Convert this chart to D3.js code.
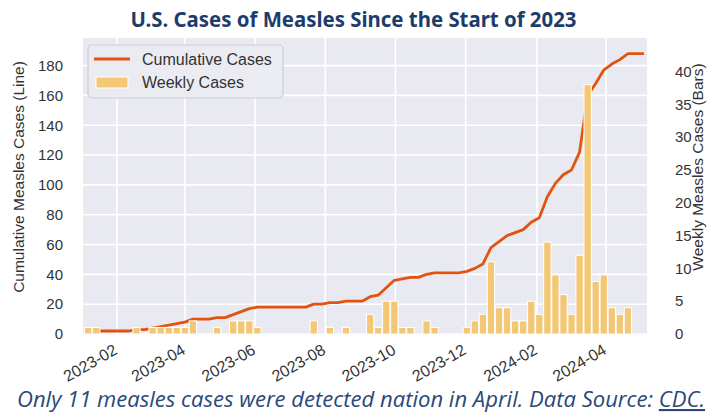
<!DOCTYPE html>
<html>
<head>
<meta charset="utf-8">
<script src="https://d3js.org/d3.v7.min.js"></script>
<style>
body { margin: 0; background: #fff; }
svg { display: block; }
text { font-family: "Liberation Sans", Arial, sans-serif; }
</style>
</head>
<body>
<div id="chart"></div>
<script>
// weekly counts, one per week starting 2023-01-07
var firstWeek = new Date(2023, 0, 7);
var weeklyCases = [1, 1, 0, 0, 0, 0, 1, 0, 1, 1, 1, 1, 1, 2, 0, 0, 1, 0, 2, 2,
  2, 1, 0, 0, 0, 0, 0, 0, 2, 0, 1, 0, 1, 0, 0, 3, 1, 5, 5, 1,
  1, 0, 2, 1, 0, 0, 0, 1, 2, 3, 11, 4, 4, 2, 2, 5, 3, 14, 9, 6,
  3, 12, 38, 8, 9, 4, 3, 4, 0, 0];
var cumulativeCases = [1, 2, 2, 2, 2, 2, 3, 3, 4, 5, 6, 7, 8, 10, 10, 10, 11, 11, 13, 15,
  17, 18, 18, 18, 18, 18, 18, 18, 20, 20, 21, 21, 22, 22, 22, 25, 26, 31, 36, 37,
  38, 38, 40, 41, 41, 41, 41, 42, 44, 47, 58, 62, 66, 68, 70, 75, 78, 92, 101, 107,
  110, 122, 160, 168, 177, 181, 184, 188, 188, 188];
var monthTicks = ["2023-02", "2023-04", "2023-06", "2023-08", "2023-10", "2023-12", "2024-02", "2024-04"];
var leftTicks = [0, 20, 40, 60, 80, 100, 120, 140, 160, 180];
var rightTicks = [0, 5, 10, 15, 20, 25, 30, 35, 40];

var width = 707, height = 414;
var plot = { left: 83, right: 647, top: 38, bottom: 335 };
var lineColor = "#e2530f", barColor = "#f4c774", navy = "#1e3c6b";

var weeks = weeklyCases.map(function (v, i) {
  return { date: d3.timeDay.offset(firstWeek, 7 * i), weekly: v, total: cumulativeCases[i] };
});

var parseMonth = d3.timeParse("%Y-%m");

var x = d3.scaleTime()
  .domain([new Date(2023, 0, 2, 12), new Date(2024, 4, 6, 14)])
  .range([plot.left, plot.right]);
var yLeft = d3.scaleLinear().domain([0, 198.5]).range([334, plot.top]);
var yRight = d3.scaleLinear().domain([0, 45.1]).range([334, plot.top]);

var svg = d3.select("#chart").append("svg").attr("width", width).attr("height", height);

// title
svg.append("text")
  .attr("x", 353.5).attr("y", 27)
  .attr("text-anchor", "middle")
  .attr("textLength", 446).attr("lengthAdjust", "spacingAndGlyphs")
  .style("font-family", "'Noto Sans', 'Open Sans', sans-serif")
  .style("font-weight", 700).style("font-size", "22px")
  .style("fill", navy)
  .text("U.S. Cases of Measles Since the Start of 2023");

// plot background and grid
svg.append("rect")
  .attr("x", plot.left).attr("y", plot.top)
  .attr("width", plot.right - plot.left).attr("height", plot.bottom - plot.top)
  .style("fill", "#e9e9f1");

svg.selectAll(".hgrid").data(leftTicks).enter().append("line")
  .attr("class", "hgrid")
  .attr("x1", plot.left).attr("x2", plot.right)
  .attr("y1", function (d) { return yLeft(d); })
  .attr("y2", function (d) { return yLeft(d); })
  .style("stroke", "#fff").style("stroke-width", 1.6);

svg.selectAll(".vgrid").data(monthTicks).enter().append("line")
  .attr("class", "vgrid")
  .attr("x1", function (d) { return x(parseMonth(d)); })
  .attr("x2", function (d) { return x(parseMonth(d)); })
  .attr("y1", plot.top).attr("y2", plot.bottom)
  .style("stroke", "#fff").style("stroke-width", 1.6);

// cumulative line (under the bars)
var line = d3.line()
  .x(function (d) { return x(d.date); })
  .y(function (d) { return yLeft(d.total); });

svg.append("path")
  .datum(weeks)
  .attr("d", line)
  .style("fill", "none")
  .style("stroke", lineColor)
  .style("stroke-width", 2.8)
  .style("stroke-linejoin", "round");

// weekly bars
var barW = x(new Date(2023, 0, 8)) - x(new Date(2023, 0, 2)) + 0.4;
svg.selectAll(".bar").data(weeks.filter(function (d) { return d.weekly > 0; }))
  .enter().append("rect")
  .attr("class", "bar")
  .attr("x", function (d) { return x(d.date) - barW / 2; })
  .attr("y", function (d) { return yRight(d.weekly); })
  .attr("width", barW)
  .attr("height", function (d) { return yRight(0) - yRight(d.weekly); })
  .style("fill", barColor)
  .style("stroke", "#fff")
  .style("stroke-width", 1);

// axes
var leftAxis = svg.append("g")
  .attr("transform", "translate(" + (plot.left - 20) + ",0)")
  .call(d3.axisLeft(yLeft).tickValues(leftTicks).tickSize(0).tickPadding(0));
var rightAxis = svg.append("g")
  .attr("transform", "translate(" + (plot.right + 28) + ",0)")
  .call(d3.axisRight(yRight).tickValues(rightTicks).tickSize(0).tickPadding(0));
var bottomAxis = svg.append("g")
  .attr("transform", "translate(0," + (plot.bottom + 18) + ")")
  .call(d3.axisBottom(x).tickValues(monthTicks.map(parseMonth))
    .tickFormat(d3.timeFormat("%Y-%m")).tickSize(0).tickPadding(0));

[leftAxis, rightAxis, bottomAxis].forEach(function (g) {
  g.select(".domain").remove();
  g.selectAll("text")
    .style("font-family", "'Liberation Sans', Arial, sans-serif")
    .style("font-size", "15px")
    .style("fill", "#333");
});

bottomAxis.selectAll("text")
  .style("font-size", "16px")
  .attr("y", 0).attr("dy", 0)
  .attr("text-anchor", "end")
  .attr("transform", "translate(1,0) rotate(-30)");

// axis titles
svg.append("text")
  .attr("transform", "translate(24,177) rotate(-90)")
  .attr("text-anchor", "middle")
  .style("font-size", "15.5px").style("fill", "#333")
  .text("Cumulative Measles Cases (Line)");

svg.append("text")
  .attr("transform", "translate(703,167) rotate(-90)")
  .attr("text-anchor", "middle")
  .style("font-size", "15.5px").style("fill", "#333")
  .text("Weekly Measles Cases (Bars)");

// legend
var legend = svg.append("g");
legend.append("rect")
  .attr("x", 88).attr("y", 45).attr("width", 195).attr("height", 53).attr("rx", 4)
  .style("fill", "#ebebf2").style("stroke", "#cdcdd5").style("stroke-width", 1.2);
legend.append("line")
  .attr("x1", 94).attr("x2", 130).attr("y1", 59).attr("y2", 59)
  .style("stroke", lineColor).style("stroke-width", 2.8);
legend.append("rect")
  .attr("x", 96).attr("y", 77).attr("width", 32).attr("height", 11)
  .style("fill", barColor).style("stroke", "#fff");
legend.append("text").attr("x", 142).attr("y", 65)
  .style("font-size", "16px").style("fill", "#333").text("Cumulative Cases");
legend.append("text").attr("x", 142).attr("y", 88)
  .style("font-size", "16px").style("fill", "#333").text("Weekly Cases");

// caption
var caption = svg.append("text")
  .attr("x", 17).attr("y", 407)
  .attr("textLength", 688).attr("lengthAdjust", "spacingAndGlyphs")
  .style("font-family", "'Open Sans', 'Noto Sans', sans-serif")
  .style("font-style", "italic").style("font-size", "21px")
  .style("fill", "#2a4878");
caption.append("tspan").text("Only 11 measles cases were detected nation in April. Data Source: ");
caption.append("tspan").style("text-decoration", "underline").text("CDC.");
</script>
</body>
</html>
